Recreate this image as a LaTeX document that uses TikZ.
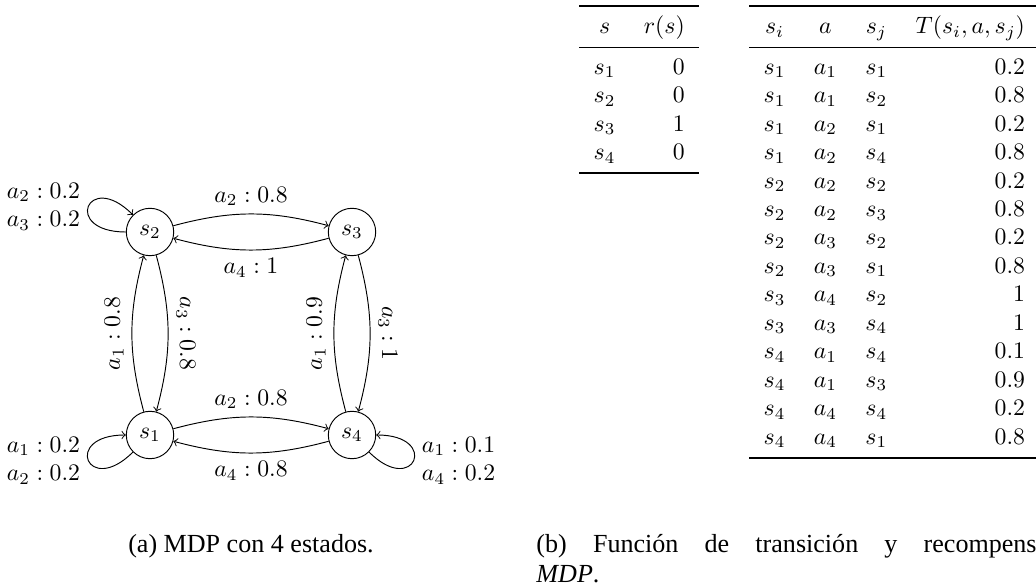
\documentclass[tikz,border=0pt]{standalone}
\usepackage{fontspec}
\usepackage{booktabs}
\newfontfamily\capfont{Liberation Serif}
\begin{document}
\begin{tikzpicture}[x=0.4219pt,y=-0.4219pt,
  state/.style={circle,draw,minimum size=20pt,inner sep=0pt},
  arc/.style={draw,->,bend left=15},
  selfloop/.style={draw,->},
  tab/.style={anchor=north west,inner sep=0pt},
  captext/.style={font=\capfont\fontsize{11}{12}\selectfont,inner sep=0pt}]
\useasboundingbox (0,0) rectangle (1036,586);
% states
\node[state] (s2) at (150,232) {$s_2$};
\node[state] (s3) at (352,232) {$s_3$};
\node[state] (s1) at (150,435) {$s_1$};
\node[state] (s4) at (352,435) {$s_4$};
% transitions
\path (s2) edge[arc] node[above] {$a_2 : 0.8$} (s3);
\path (s3) edge[arc] node[below] {$a_4 : 1$} (s2);
\path (s1) edge[arc] node[above] {$a_2 : 0.8$} (s4);
\path (s4) edge[arc] node[below] {$a_4 : 0.8$} (s1);
\path (s1) edge[arc] node[rotate=90,above] {$a_1 : 0.8$} (s2);
\path (s2) edge[arc] node[rotate=-90,above] {$a_3 : 0.8$} (s1);
\path (s4) edge[arc] node[rotate=90,above] {$a_1 : 0.9$} (s3);
\path (s3) edge[arc] node[rotate=-90,above] {$a_3 : 1$} (s4);
% self loops
\draw[selfloop] (s2.180) .. controls +(180:27pt) and +(135:27pt) .. node[left,align=right] {$a_2 : 0.2$\\$a_3 : 0.2$} (s2.135);
\draw[selfloop] (s1.225) .. controls +(225:27pt) and +(180:27pt) .. node[left,align=right] {$a_1 : 0.2$\\$a_2 : 0.2$} (s1.180);
\draw[selfloop] (s4.315) .. controls +(315:27pt) and +(0:27pt) .. node[right,align=left] {$a_1 : 0.1$\\$a_4 : 0.2$} (s4.0);
% tables
\node[tab] (rtab) at (579,5) {%
\begin{tabular}{cr}
\toprule
$s$ & $r(s)$ \\
\midrule
$s_1$ & $0$ \\
$s_2$ & $0$ \\
$s_3$ & $1$ \\
$s_4$ & $0$ \\
\bottomrule
\end{tabular}};
\node[tab] (ttab) at (749,5) {%
\begin{tabular}{cccr}
\toprule
$s_i$ & $a$ & $s_j$ & $T(s_i,a,s_j)$ \\
\midrule
$s_1$ & $a_1$ & $s_1$ & $0.2$ \\
$s_1$ & $a_1$ & $s_2$ & $0.8$ \\
$s_1$ & $a_2$ & $s_1$ & $0.2$ \\
$s_1$ & $a_2$ & $s_4$ & $0.8$ \\
$s_2$ & $a_2$ & $s_2$ & $0.2$ \\
$s_2$ & $a_2$ & $s_3$ & $0.8$ \\
$s_2$ & $a_3$ & $s_2$ & $0.2$ \\
$s_2$ & $a_3$ & $s_1$ & $0.8$ \\
$s_3$ & $a_4$ & $s_2$ & $1$ \\
$s_3$ & $a_3$ & $s_4$ & $1$ \\
$s_4$ & $a_1$ & $s_4$ & $0.1$ \\
$s_4$ & $a_1$ & $s_3$ & $0.9$ \\
$s_4$ & $a_4$ & $s_4$ & $0.2$ \\
$s_4$ & $a_4$ & $s_1$ & $0.8$ \\
\bottomrule
\end{tabular}};
% captions
\node[captext,anchor=base] (capa) at (251,552) {(a) MDP con 4 estados.};
\node[captext,anchor=base west] (capb) at (536,552) {\makebox[211pt][s]{(b) Función de transición y recompens}};
\node[captext,anchor=base west] (capc) at (536,582) {\textit{MDP}.};
\end{tikzpicture}
\end{document}
